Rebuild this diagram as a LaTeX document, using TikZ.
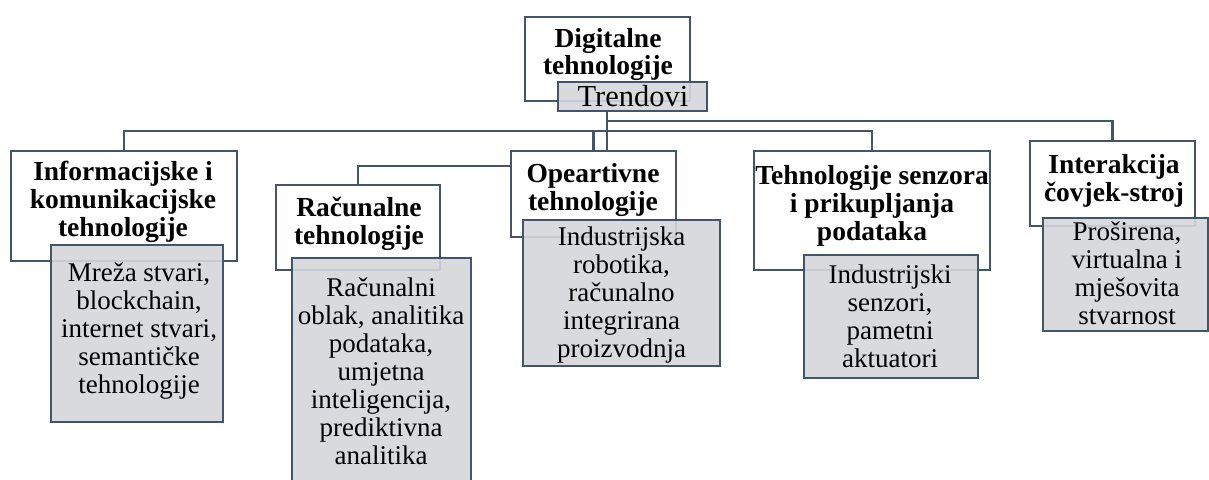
\documentclass[tikz,border=0pt]{standalone}
\usepackage{fontspec}
\setmainfont{Liberation Serif}
\definecolor{edge}{RGB}{68,84,106}
\definecolor{boxgray}{RGB}{213,214,218}
\tikzset{
  conn/.style={draw=edge, line width=2.6pt},
  wbox/.style={draw=edge, line width=2.3pt, fill=white, inner sep=0pt, rectangle},
  gbox/.style={draw=edge, line width=2.3pt, fill=boxgray, fill opacity=0.9, draw opacity=1, inner sep=0pt, rectangle},
  btext/.style={anchor=base, align=center, inner sep=0pt, font={\fontsize{27.5}{28}\selectfont\bfseries}},
  rtext/.style={anchor=base, align=center, inner sep=0pt, font={\fontsize{27}{28}\selectfont}}
}
\begin{document}
\begin{tikzpicture}[x=1pt,y=-1pt]
\useasboundingbox (0,0) rectangle (1209,479);
% boxes (white)
\node[wbox, minimum width=165pt, minimum height=84pt] (dig) at (607.5,59) {};
% connector coordinates
\coordinate (bus1) at (607,131);
\coordinate (bus2) at (607,121);
\coordinate (bus3) at (607,166);
\node[wbox, minimum width=226pt, minimum height=110pt, draw=none, fill=none] (info) at (124,206) {};
\node[wbox, minimum width=164pt, minimum height=85pt, draw=none, fill=none] (racu) at (358,227.5) {};
\node[wbox, minimum width=165pt, minimum height=86pt, draw=none, fill=none] (oper) at (593.5,194) {};
\node[wbox, minimum width=236pt, minimum height=119pt, draw=none, fill=none] (tehn) at (872,210.5) {};
\node[wbox, minimum width=165pt, minimum height=85pt, draw=none, fill=none] (inte) at (1112.5,183.5) {};
\node[gbox, minimum width=149pt, minimum height=29pt, draw=none, fill=none] (trend) at (632.5,96.5) {};
% connectors
\draw[conn] (info.north) |- (bus1) -| (tehn.north);
\draw[conn] (bus1 -| oper.north) -- (oper.north);
\draw[conn] (trend.south -| bus1) -- (bus3) -| (racu.north);
\draw[conn] (bus2) -| (inte.north);
% visible boxes
\node[wbox, minimum width=226pt, minimum height=110pt] at (info) {};
\node[wbox, minimum width=164pt, minimum height=85pt] at (racu) {};
\node[wbox, minimum width=165pt, minimum height=86pt] at (oper) {};
\node[wbox, minimum width=236pt, minimum height=119pt] at (tehn) {};
\node[wbox, minimum width=165pt, minimum height=85pt] at (inte) {};
\node[gbox, minimum width=149pt, minimum height=29pt] at (trend) {};
% gray boxes
\node[gbox, minimum width=172pt, minimum height=177pt] (infog) at (137,333.5) {};
\node[gbox, minimum width=179pt, minimum height=242pt] (racug) at (381.5,379) {};
\node[gbox, minimum width=197pt, minimum height=146pt] (operg) at (621.5,293) {};
\node[gbox, minimum width=174pt, minimum height=123pt] (tehng) at (891,316.5) {};
\node[gbox, minimum width=165pt, minimum height=113pt] (integ) at (1125.5,274.5) {};
% texts (anchor base = baseline of last line)
\node[btext, font={\fontsize{27.5}{27}\selectfont\bfseries}] (digt) at (608,74) {Digitalne\\tehnologije};
\node[rtext, font={\fontsize{30.5}{30}\selectfont}] (trendt) at (633,106) {Trendovi};
\node[btext] (infot) at (123,236) {Informacijske i\\komunikacijske\\tehnologije};
\node[rtext] (infogt) at (139,393) {Mreža stvari,\\blockchain,\\internet stvari,\\semantičke\\tehnologije};
\node[btext] (racut) at (359,244) {Računalne\\tehnologije};
\node[rtext] (racugt) at (381,464) {Računalni\\oblak, analitika\\podataka,\\umjetna\\inteligencija,\\prediktivna\\analitika};
\node[btext] (opert) at (593,210.5) {Opeartivne\\tehnologije};
\node[rtext] (opergt) at (621.5,357.5) {Industrijska\\robotika,\\računalno\\integrirana\\proizvodnja};
\node[btext] (tehnt) at (872,240.5) {Tehnologije senzora\\i prikupljanja\\podataka};
\node[rtext] (tehngt) at (890,367) {Industrijski\\senzori,\\pametni\\aktuatori};
\node[btext] (intet) at (1114,201) {Interakcija\\čovjek-stroj};
\node[rtext] (integt) at (1127,324.5) {Proširena,\\virtualna i\\mješovita\\stvarnost};
\end{tikzpicture}
\end{document}
